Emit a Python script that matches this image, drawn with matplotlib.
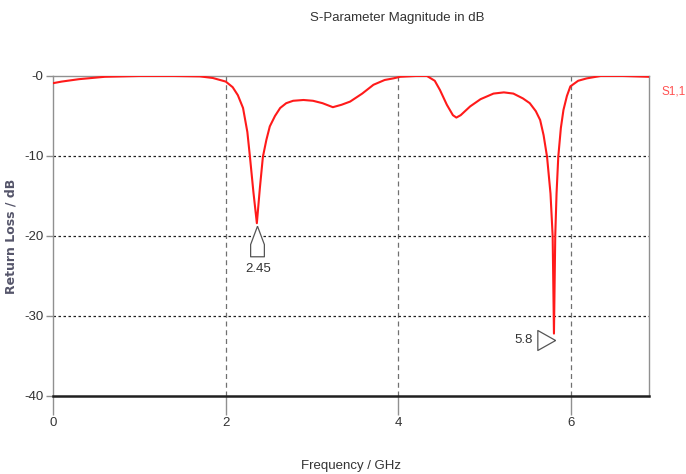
import numpy as np
import matplotlib
matplotlib.use('Agg')
import matplotlib.pyplot as plt
from matplotlib.path import Path
from matplotlib.transforms import ScaledTranslation

plt.rcParams['font.family'] = ['Liberation Sans', 'DejaVu Sans']

# S1,1 magnitude (dB)
freq = [0.0, 0.1, 0.3, 0.6, 1.0, 1.4, 1.7, 1.85, 2.0, 2.08, 2.14, 2.2, 2.25,
        2.28, 2.32, 2.36, 2.395, 2.43, 2.47, 2.51, 2.57, 2.63, 2.7, 2.78, 2.9,
        3.01, 3.12, 3.24, 3.34, 3.44, 3.58, 3.71, 3.84, 3.94, 4.02, 4.2, 4.33,
        4.42, 4.48, 4.56, 4.63, 4.67, 4.72, 4.83, 4.95, 5.1, 5.22, 5.33, 5.44,
        5.52, 5.59, 5.64, 5.68, 5.72, 5.76, 5.785, 5.80, 5.815, 5.83, 5.85,
        5.88, 5.91, 5.95, 5.99, 6.08, 6.18, 6.34, 6.6, 6.9]
s11 = [-0.9, -0.7, -0.4, -0.1, 0.0, 0.0, -0.05, -0.25, -0.7, -1.4, -2.4, -4.0,
       -7.0, -10.1, -14.5, -18.4, -14.0, -10.1, -8.0, -6.3, -5.0, -4.0, -3.4,
       -3.1, -3.0, -3.1, -3.4, -3.9, -3.6, -3.2, -2.2, -1.1, -0.5, -0.3, -0.1,
       0.0, 0.0, -0.6, -1.75, -3.6, -4.9, -5.2, -4.9, -3.8, -2.9, -2.2, -2.05,
       -2.2, -2.8, -3.4, -4.4, -5.5, -7.4, -10.1, -14.7, -20.0, -32.2, -20.0,
       -14.7, -10.1, -6.5, -4.25, -2.5, -1.3, -0.6, -0.3, 0.0, 0.0, -0.1]

marker_labels = ['2.45', '5.8']
x_ticks = [0, 2, 4, 6]
y_ticks = [0, -10, -20, -30, -40]
y_ticklabels = ['-0', '-10', '-20', '-30', '-40']

freq = np.array(freq)
s11 = np.array(s11)

fig = plt.figure(figsize=(6.86, 4.74), dpi=100)
ax = fig.add_axes([0.0773, 0.1646, 0.946 - 0.0773, 0.8397 - 0.1646])

ax.plot(freq, s11, color='#ff1a1a', linewidth=1.5, zorder=3)

ax.set_xlim(0, 6.9)
ax.set_ylim(-40, 0)

# grid
for x in x_ticks[1:]:
    ax.axvline(x, color='#707070', linestyle=(0, (4, 3)), linewidth=0.9, zorder=1)
for y in y_ticks[1:-1]:
    ax.axhline(y, color='#202020', linestyle=(0, (2, 2)), linewidth=0.9, zorder=1)

for side in ['top', 'right', 'left']:
    ax.spines[side].set_color('#909090')
    ax.spines[side].set_linewidth(1.0)
ax.spines['bottom'].set_color('#202020')
ax.spines['bottom'].set_linewidth(1.8)

ax.set_xticks(x_ticks)
ax.set_xticklabels([str(t) for t in x_ticks])
ax.set_yticks(y_ticks)
ax.set_yticklabels(y_ticklabels)
ax.tick_params(axis='x', direction='out', length=14, color='#909090', width=1.0,
               labelsize=9.5, labelcolor='#333333', pad=1)
ax.tick_params(axis='y', direction='out', length=5, color='#909090', width=1.0,
               labelsize=9.5, labelcolor='#333333', pad=2)

fig.text(397 / 686, 1 - 18 / 474, 'S-Parameter Magnitude in dB', fontsize=9.5,
         color='#333333', ha='center', va='center')
ax.set_xlabel('Frequency / GHz', fontsize=9.5, color='#333333')
ax.xaxis.set_label_coords(0.5, -0.2)
ax.set_ylabel('Return Loss / dB', fontsize=9, color='#55556a', fontweight='bold',
              family='DejaVu Sans')
ax.yaxis.set_label_coords(-0.059, 0.5)

# curve name on the right
fig.text(661 / 686, 1 - 91 / 474, 'S1,1', color='#ff5050', fontsize=8.5,
         ha='left', va='center')

# markers at the two minima
i1 = np.argmin(np.where(freq < 4, s11, 0))
i2 = np.argmin(np.where(freq > 4, s11, 0))

up_tri = Path([(0, 1), (0.45, -0.2), (0.45, -1), (-0.45, -1), (-0.45, -0.2), (0, 1)])
right_tri = Path([(1, 0), (-0.6, 0.9), (-0.6, -0.9), (1, 0)])

off1 = ax.transData + ScaledTranslation(0, -12.6 / 72, fig.dpi_scale_trans)
ax.plot(freq[i1], s11[i1], marker=up_tri, markersize=22, markerfacecolor='white',
        markeredgecolor='#555555', markeredgewidth=0.9, transform=off1, zorder=4)
ax.annotate(marker_labels[0], xy=(freq[i1], s11[i1]), xytext=(1, -29),
            textcoords='offset points', ha='center', va='top', fontsize=9.5,
            color='#333333')

off2 = ax.transData + ScaledTranslation(-7.5 / 72, -4.5 / 72, fig.dpi_scale_trans)
ax.plot(freq[i2], s11[i2], marker=right_tri, markersize=16, markerfacecolor='white',
        markeredgecolor='#555555', markeredgewidth=0.9, transform=off2, zorder=4)
ax.annotate(marker_labels[1], xy=(freq[i2], s11[i2]), xytext=(-15, -4.5),
            textcoords='offset points', ha='right', va='center', fontsize=9.5,
            color='#333333')

fig.savefig('out.png', dpi=100)
